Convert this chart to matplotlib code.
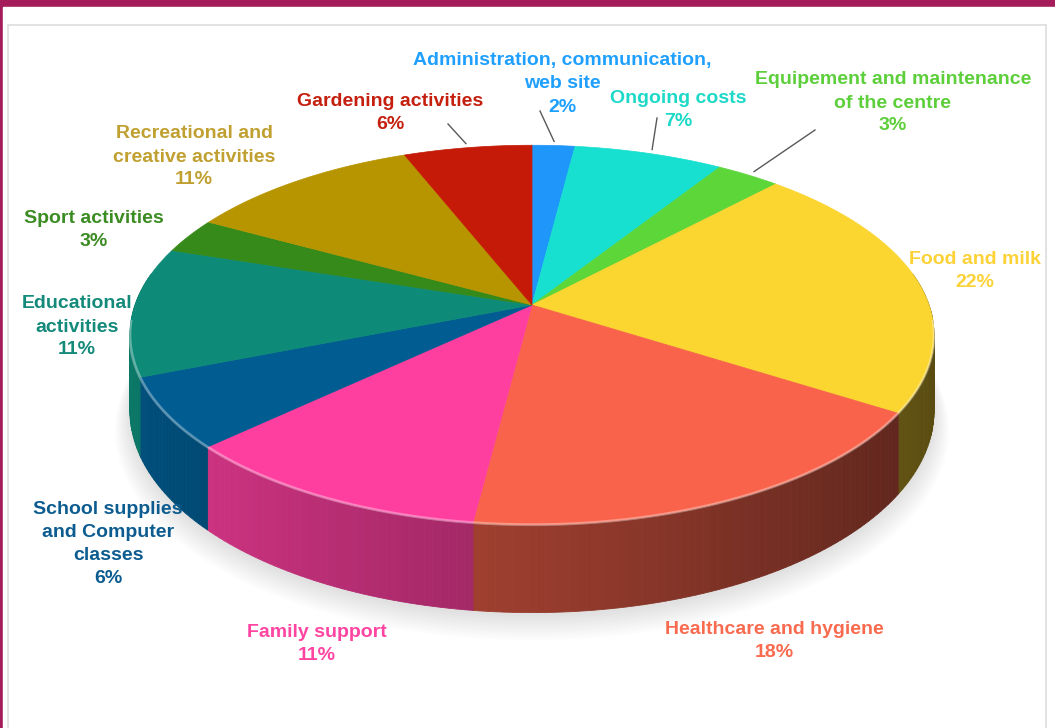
import numpy as np
import matplotlib.pyplot as plt
from matplotlib.patches import Polygon, Rectangle
from matplotlib.colors import to_rgb

# --- dados ---
categorias = ["Administration, communication,\nweb site", "Ongoing costs",
              "Equipement and maintenance\nof the centre", "Food and milk",
              "Healthcare and hygiene", "Family support",
              "School supplies\nand Computer\nclasses", "Educational\nactivities",
              "Sport activities", "Recreational and\ncreative activities",
              "Gardening activities"]
percentuais = [2, 7, 3, 22, 18, 11, 6, 11, 3, 11, 6]
cores = ["#1E96FA", "#17E0D0", "#5DD63A", "#FBD530", "#F9634B", "#FF3FA0",
         "#005C91", "#0D8A78", "#358A1A", "#B79500", "#C41A07"]
cores_texto = ["#1FA0FF", "#1DD9C8", "#5CCF3A", "#FCD237", "#F96A4F", "#FF44A1",
               "#0C5C90", "#138A7A", "#3B8C22", "#C0A030", "#C5200F"]

# posicao dos rotulos (centro do bloco de texto, em pixels)
pos_rotulo = [(562, 84), (678, 110), (893, 103), (975, 271), (774, 641),
              (317, 644), (108, 544), (77, 327), (94, 230), (194, 157), (390, 113)]
# fim das linhas de chamada (None = sem linha)
fim_linha = [(540, 111), (657, 118), (815, 130), None, None, None, None,
             None, None, None, (448, 124)]
ESPACO = 23  # distancia entre linhas do rotulo, px

# --- geometria da pizza em perspectiva ---
CX, CY = 532, 305
SX, SY = 397, 185
A = 0.158
PROF = 74


def proj(phi, r=1.0, dz=0.0):
    phi = np.radians(phi)
    u = r * np.sin(phi)
    v = -r * np.cos(phi)
    w = 1 - A * v
    return CX + SX * u / w, CY + SY * v / w + PROF * dz / w


def brilho(phi):
    return 0.61 - 0.26 * np.sin(np.radians(phi))


fig = plt.figure(figsize=(10.55, 7.28), dpi=100)
ax = fig.add_axes([0, 0, 1, 1])
ax.set_xlim(0, 1055)
ax.set_ylim(728, 0)
ax.axis("off")

# moldura
ax.add_patch(Rectangle((0, 0), 1055, 728, color="#A51C5A", zorder=0))
ax.add_patch(Rectangle((3, 7), 1052, 721, color="white", zorder=0))
ax.add_patch(Rectangle((8, 25), 1038, 710, facecolor="white",
                       edgecolor="#DDDDDD", lw=1.2, zorder=0))

# sombra suave
for k in range(10):
    t = np.linspace(0, 360, 200)
    x, y = proj(t, 1.0 + 0.004 * k, 1.0)
    y = y + 4 + 1.5 * k
    ax.fill(x, y, color="black", alpha=0.012, lw=0, zorder=1)

lim = np.cumsum([0] + percentuais) * 3.6

# laterais (faixas finas com sombreamento)
for i, cor in enumerate(cores):
    a0, a1 = max(lim[i], 80), min(lim[i + 1], 280)
    if a1 <= a0:
        continue
    base = np.array(to_rgb(cor))
    passos = np.arange(a0, a1, 1.0).tolist() + [a1]
    for p0, p1 in zip(passos[:-1], passos[1:]):
        xs0, ys0 = proj(np.array([p0, p1]))
        xs1, ys1 = proj(np.array([p1, p0]), dz=1.0)
        c = np.clip(base * brilho((p0 + p1) / 2), 0, 1)
        ax.add_patch(Polygon(np.column_stack([np.r_[xs0, xs1], np.r_[ys0, ys1]]),
                             closed=True, facecolor=c, edgecolor=c, lw=0.6, zorder=2))

# topo
for i, cor in enumerate(cores):
    t = np.linspace(lim[i], lim[i + 1], 80)
    x, y = proj(t)
    ax.add_patch(Polygon(np.column_stack([np.r_[CX, x], np.r_[CY, y]]), closed=True,
                         facecolor=cor, edgecolor=cor, lw=0.5, zorder=3))

# brilho na borda frontal
t = np.linspace(95, 265, 200)
x, y = proj(t)
ax.plot(x, y, color="white", alpha=0.35, lw=2, zorder=4)

# rotulos e linhas de chamada
for i, nome in enumerate(categorias):
    meio = (lim[i] + lim[i + 1]) / 2
    if fim_linha[i] is not None:
        x0, y0 = proj(meio, 1.03)
        ax.plot([x0, fim_linha[i][0]], [y0, fim_linha[i][1]], color="#595959",
                lw=1, zorder=4)
    linhas = nome.split("\n") + [f"{percentuais[i]}%"]
    n = len(linhas)
    for k, linha in enumerate(linhas):
        ax.text(pos_rotulo[i][0], pos_rotulo[i][1] + (k - (n - 1) / 2) * ESPACO,
                linha, ha="center", va="center", color=cores_texto[i],
                fontsize=14, fontweight="bold", family="Liberation Sans", zorder=5)

fig.savefig("out.png", dpi=100)
